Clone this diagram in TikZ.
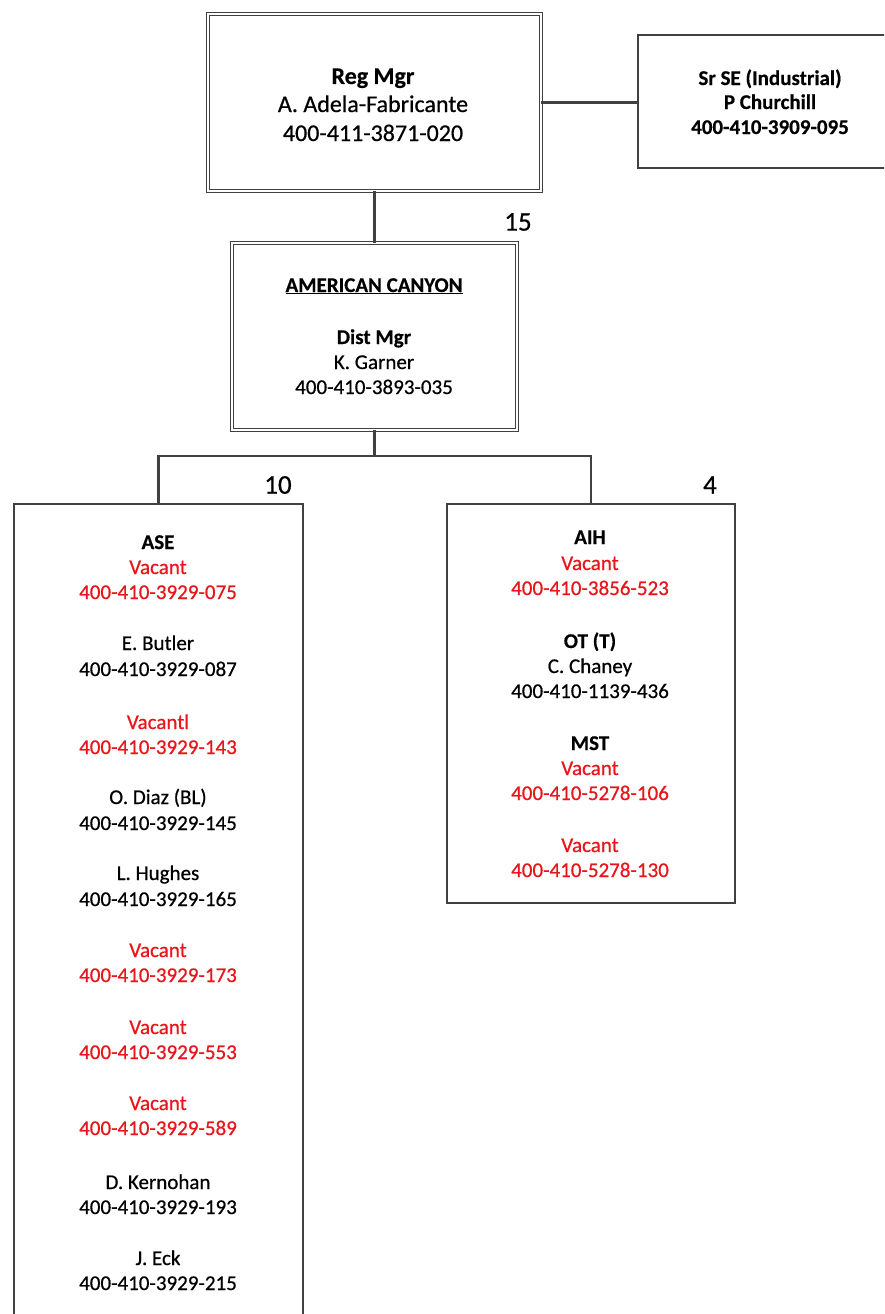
\documentclass[tikz,border=0pt]{standalone}
\usepackage{fontspec}
\setmainfont{Carlito}
\newfontfamily\rgf{Carlito}[FakeBold=0.6]
\newfontfamily\bdf{Carlito}[FakeBold=0.4]
\definecolor{vac}{RGB}{232,22,26}
\definecolor{ln}{RGB}{64,64,64}
\begin{document}
\begin{tikzpicture}[x=1pt,y=-1pt,
  box/.style={draw=ln,line width=1.4pt,fill=white,inner sep=0pt,outer sep=0pt},
  dbox/.style={draw=ln,line width=1.2pt,double=white,double distance=2.4pt,fill=white,inner sep=0pt,outer sep=0pt},
  conn/.style={draw=ln,line width=2.2pt},
  bigconn/.style={draw=ln,line width=3pt},
  txt/.style={font=\fontsize{21}{25}\selectfont\rgf,inner sep=0pt,anchor=base},
  btxt/.style={txt,font=\fontsize{21}{25}\selectfont\bdf\bfseries},
  rtxt/.style={txt,text=vac},
  htxt/.style={font=\fontsize{24}{29}\selectfont\rgf,inner sep=0pt,anchor=base},
  hbtxt/.style={font=\fontsize{24}{29}\selectfont\bdf\bfseries,inner sep=0pt,anchor=base},
  cnt/.style={font=\fontsize{27}{32}\selectfont\rgf,inner sep=0pt,anchor=center}
]
\path[use as bounding box,fill=white] (0,0) rectangle (884,1314);
\clip (0,0) rectangle (884,1314);

% boxes
\node[dbox,minimum width=333pt,minimum height=177pt] (reg) at (374.5,102.5) {};
\node[box,minimum width=266pt,minimum height=133pt] (sr) at (771,101.5) {};
\node[dbox,minimum width=285pt,minimum height=187pt] (ac) at (374.5,336.5) {};
\node[box,minimum width=289pt,minimum height=830pt,anchor=north] (lb) at (158.5,504) {};
\node[box,minimum width=288pt,minimum height=399pt] (rb) at (591,703.5) {};

% connectors
\draw[bigconn] (reg.east) -- (reg.east -| sr.west);
\draw[conn] (reg.south) -- (ac.north);
\coordinate (jn) at (374.5,456);
\draw[conn] (ac.south) -- (jn);
\draw[conn] (lb.north) |- (jn) -| (rb.north);

% counts
\node[cnt] (c15) at (518,222) {15};
\node[cnt] (c10) at (278,485) {10};
\node[cnt] (c4) at (710,485) {4};

% Reg Mgr
\node[hbtxt] (r1) at (373,84) {Reg Mgr};
\node[htxt] (r2) at (373,112) {A. Adela-Fabricante};
\node[htxt] (r3) at (373,141) {400-411-3871-020};

% Sr SE
\node[btxt] (s1) at (770,85) {Sr SE (Industrial)};
\node[btxt] (s2) at (770,109) {P Churchill};
\node[btxt] (s3) at (770,134) {400-410-3909-095};

% American Canyon
\node[btxt] (a1) at (374,292) {\underline{AMERICAN CANYON}};
\node[btxt] (a2) at (374,344) {Dist Mgr};
\node[txt] (a3) at (374,369) {K. Garner};
\node[txt] (a4) at (374,394) {400-410-3893-035};

% left list
\node[btxt] (l1) at (158,549) {ASE};
\node[rtxt] (l2) at (158,574) {Vacant};
\node[rtxt] (l3) at (158,599) {400-410-3929-075};
\node[txt] (l4) at (158,650) {E. Butler};
\node[txt] (l5) at (158,676) {400-410-3929-087};
\node[rtxt] (l6) at (158,729) {Vacantl};
\node[rtxt] (l7) at (158,754) {400-410-3929-143};
\node[txt] (l8) at (158,804) {O. Diaz (BL)};
\node[txt] (l9) at (158,830) {400-410-3929-145};
\node[txt] (l10) at (158,880) {L. Hughes};
\node[txt] (l11) at (158,906) {400-410-3929-165};
\node[rtxt] (l12) at (158,957) {Vacant};
\node[rtxt] (l13) at (158,982) {400-410-3929-173};
\node[rtxt] (l14) at (158,1034) {Vacant};
\node[rtxt] (l15) at (158,1059) {400-410-3929-553};
\node[rtxt] (l16) at (158,1110) {Vacant};
\node[rtxt] (l17) at (158,1135) {400-410-3929-589};
\node[txt] (l18) at (158,1189) {D. Kernohan};
\node[txt] (l19) at (158,1214) {400-410-3929-193};
\node[txt] (l20) at (158,1265) {J. Eck};
\node[txt] (l21) at (158,1290) {400-410-3929-215};

% right list
\node[btxt] (q1) at (590,544) {AIH};
\node[rtxt] (q2) at (590,570) {Vacant};
\node[rtxt] (q3) at (590,595) {400-410-3856-523};
\node[btxt] (q4) at (590,648) {OT (T)};
\node[txt] (q5) at (590,673) {C. Chaney};
\node[txt] (q6) at (590,698) {400-410-1139-436};
\node[btxt] (q7) at (590,750) {MST};
\node[rtxt] (q8) at (590,775) {Vacant};
\node[rtxt] (q9) at (590,800) {400-410-5278-106};
\node[rtxt] (q10) at (590,852) {Vacant};
\node[rtxt] (q11) at (590,877) {400-410-5278-130};
\end{tikzpicture}
\end{document}
